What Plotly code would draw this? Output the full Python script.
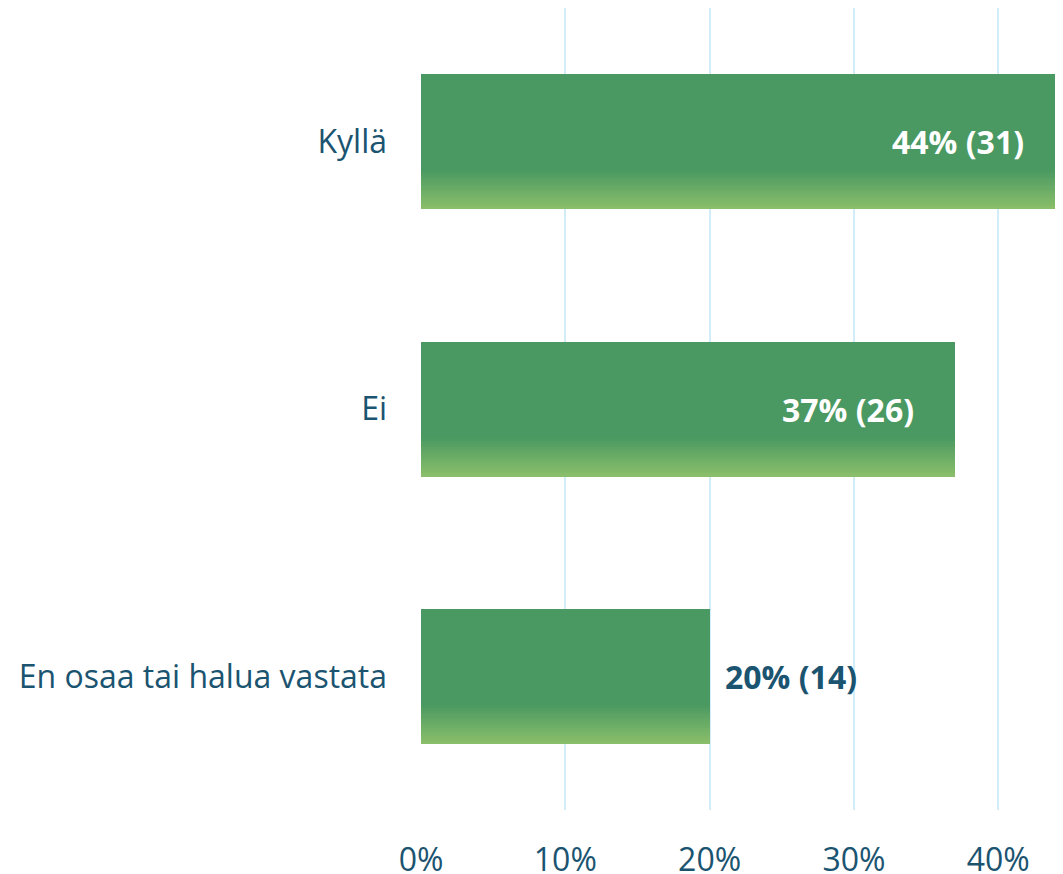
import plotly.graph_objects as go

# ---- data ----
categories = ["Kyllä", "Ei", "En osaa tai halua vastata"]
percent_values = [44, 37, 20]
counts = [31, 26, 14]
x_tick_values = [0, 10, 20, 30, 40]
x_tick_labels = ["0%", "10%", "20%", "30%", "40%"]

# ---- style ----
FONT = "Open Sans"
FONT_SIZE = 32
TEXT_COLOR = "#1b5470"
GRID_COLOR = "#d3edf8"
TOP_GREEN = (74, 153, 98)
BOTTOM_GREEN = (139, 191, 106)
BAR_WIDTH = 0.505
GRAD_FRAC = 0.29
N_STRIPES = 24


def mix(c1, c2, t):
    return "rgb(%d,%d,%d)" % tuple(round(a + (b - a) * t) for a, b in zip(c1, c2))


fig = go.Figure()

# main bars
fig.add_trace(go.Bar(
    y=categories, x=percent_values, orientation="h",
    width=BAR_WIDTH,
    marker=dict(color=mix(TOP_GREEN, TOP_GREEN, 0), line=dict(width=0)),
    hoverinfo="skip", showlegend=False,
))

# vertical gradient at the bottom part of each bar, built from thin overlay bars
grad_h = BAR_WIDTH * GRAD_FRAC
step = grad_h / N_STRIPES
for i in range(N_STRIPES):
    t = (i + 0.5) / N_STRIPES
    off = BAR_WIDTH / 2 - grad_h + i * step
    w = step * 1.4 if i < N_STRIPES - 1 else step
    fig.add_trace(go.Bar(
        y=categories, x=percent_values, orientation="h",
        width=w, offset=off,
        marker=dict(color=mix(TOP_GREEN, BOTTOM_GREEN, t), line=dict(width=0)),
        hoverinfo="skip", showlegend=False,
    ))

# value labels
inside_shift = {0: -30, 1: -39}
for i, (cat, v, n) in enumerate(zip(categories, percent_values, counts)):
    inside = v >= 25
    fig.add_annotation(
        x=v, y=cat, xref="x", yref="y",
        text=f"<b>{v}% ({n})</b>",
        showarrow=False,
        xanchor="right" if inside else "left",
        xshift=inside_shift.get(i, -34) if inside else 13,
        font=dict(family=FONT, size=FONT_SIZE, color="white" if inside else TEXT_COLOR),
    )

fig.update_layout(
    width=1055, height=866,
    margin=dict(l=413, r=7, t=0, b=64),
    paper_bgcolor="white", plot_bgcolor="white",
    barmode="overlay",
    bargap=0,
    font=dict(family=FONT, size=FONT_SIZE, color=TEXT_COLOR),
    showlegend=False,
)
fig.update_xaxes(
    range=[0, 44], tickvals=x_tick_values, ticktext=x_tick_labels,
    showgrid=True, gridcolor=GRID_COLOR, gridwidth=2,
    zeroline=False, showline=False,
    ticklabelstandoff=28,
    automargin=False,
    tickfont=dict(family=FONT, size=FONT_SIZE, color=TEXT_COLOR),
    fixedrange=True,
)
fig.update_yaxes(
    type="category", categoryorder="array", categoryarray=categories,
    range=[2.5, -0.5],
    showgrid=False, zeroline=False, showline=False,
    ticklabelstandoff=33,
    automargin=False,
    tickfont=dict(family=FONT, size=FONT_SIZE, color=TEXT_COLOR),
    fixedrange=True,
)

fig.write_html("out.html", config={"displayModeBar": False})
